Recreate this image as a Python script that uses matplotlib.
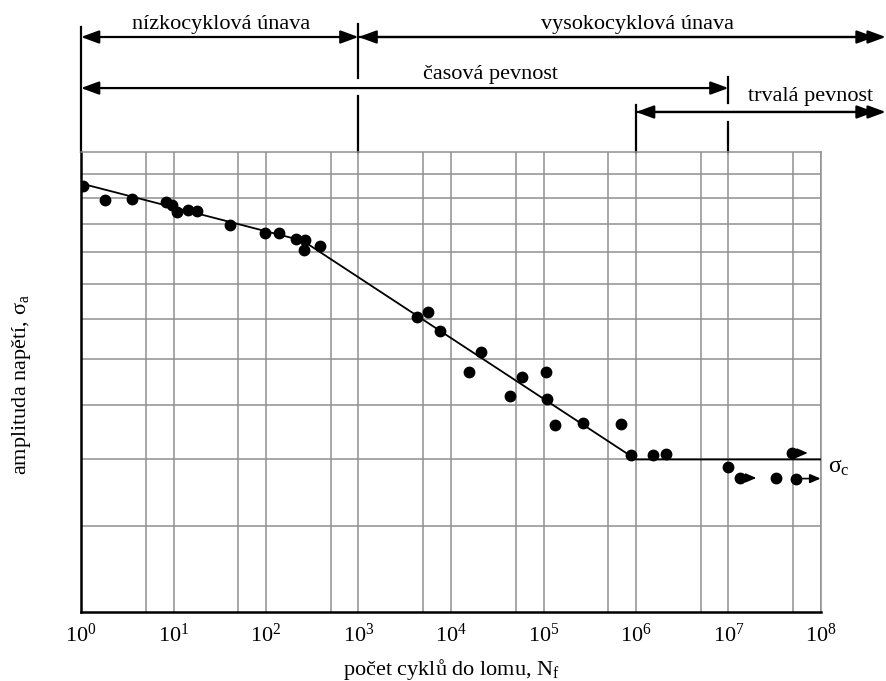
import matplotlib
matplotlib.use('Agg')
import matplotlib.pyplot as plt
from matplotlib.ticker import FixedLocator, NullFormatter, NullLocator

plt.rcParams['font.family'] = ['Liberation Serif', 'DejaVu Serif']
plt.rcParams['mathtext.fontset'] = 'custom'
plt.rcParams['mathtext.rm'] = 'Liberation Serif'
plt.rcParams['mathtext.it'] = 'Liberation Serif:italic'

# measured points: number of cycles to failure, stress amplitude
cycles = [1.05, 1.8, 3.6, 8.2, 9.7, 11, 14.5, 18, 41, 97, 138, 213, 264, 258, 384,
          4260, 5640, 7670, 20900, 15700, 58600, 43800, 105600, 110000, 133000,
          267000, 689000, 877000, 1.52e6, 2.11e6, 9.95e6, 1.32e7, 3.24e7, 4.82e7, 5.32e7]
sigma = [1250, 1192, 1196, 1185, 1172, 1146, 1153, 1150, 1096, 1068, 1068, 1045, 1042, 1008, 1021,
         806, 819, 770, 716, 671, 660, 618, 671, 613, 561,
         564, 563, 508, 507, 509, 488, 470, 470, 511, 469]

# run-outs (no failure) -> arrows
runout_start = [1.32e7, 4.82e7, 5.32e7]
runout_end = [2.0e7, 7.2e7, 9.9e7]
runout_sigma = [470, 511, 469]

# fitted S-N curve
curve_n = [1, 250, 1e6, 1e8]
curve_s = [1260, 1040, 500, 500]

regime_bounds = [1, 1e3, 1e6, 1e7]
xtick_exp = list(range(0, 9))

fig = plt.figure(figsize=(8.87, 6.81), dpi=100)
ax = fig.add_axes([81/887, 69/681, 740/887, 460/681])
ax.set_xscale('log')
ax.set_yscale('log')
ax.set_xlim(1, 1e8)
ax.set_ylim(300, 1400)

ax.xaxis.set_major_locator(FixedLocator([10.0**e for e in xtick_exp]))
ax.set_xticklabels([f'$10^{{{e}}}$' for e in xtick_exp], fontsize=16)
ax.xaxis.set_minor_locator(FixedLocator([5 * 10.0**e for e in range(8)]))
ax.xaxis.set_minor_formatter(NullFormatter())
ax.yaxis.set_major_locator(FixedLocator(list(range(400, 1400, 100))))
ax.yaxis.set_major_formatter(NullFormatter())
ax.yaxis.set_minor_locator(NullLocator())
ax.tick_params(which='both', length=0, pad=8)
ax.grid(True, which='both', color='#8f8f8f', lw=1.1)
ax.set_axisbelow(True)
for s in ['top', 'right']:
    ax.spines[s].set_color('#8f8f8f')
    ax.spines[s].set_linewidth(1.1)
for s in ['left', 'bottom']:
    ax.spines[s].set_color('black')
    ax.spines[s].set_linewidth(1.8)

ax.plot(curve_n, curve_s, color='black', lw=1.3, zorder=3)
ax.plot(cycles, sigma, 'o', color='black', ms=7.5, zorder=4)
for a, b, s in zip(runout_start, runout_end, runout_sigma):
    ax.annotate('', xy=(b, s), xytext=(a, s),
                arrowprops=dict(arrowstyle='-|>,head_length=0.7,head_width=0.3',
                                color='black', lw=1.2, mutation_scale=9,
                                shrinkA=4, shrinkB=0))

ax.text(10**8.08, 487, r'$\mathrm{σ}_\mathrm{c}$', fontsize=17, va='center', ha='left')

# regime annotations above the plot
tr = ax.get_xaxis_transform()
lk = dict(color='black', lw=1.6, transform=tr, clip_on=False)
ax.plot([1, 1], [1.0, 1.272], **lk)
ax.plot([1e3, 1e3], [1.161, 1.278], **lk)
ax.plot([1e3, 1e3], [1.0, 1.122], **lk)
ax.plot([1e6, 1e6], [1.0, 1.102], **lk)
ax.plot([1e7, 1e7], [1.107, 1.163], **lk)
ax.plot([1e7, 1e7], [1.0, 1.065], **lk)

x_far = 10**8.70
x_far2 = 10**8.58


def arrow(x0, x1, y, style='<|-|>'):
    ax.annotate('', xy=(x1, y), xytext=(x0, y), xycoords=tr, textcoords=tr,
                annotation_clip=False,
                arrowprops=dict(arrowstyle=style + ',head_length=0.6,head_width=0.22',
                                color='black', lw=1.6, mutation_scale=18,
                                shrinkA=0, shrinkB=0))


arrow(regime_bounds[0], regime_bounds[1], 1.25)
arrow(regime_bounds[1], x_far, 1.25)
arrow(regime_bounds[1], x_far2, 1.25, '-|>')
arrow(regime_bounds[0], regime_bounds[3], 1.139)
arrow(regime_bounds[2], x_far, 1.087)
arrow(regime_bounds[2], x_far2, 1.087, '-|>')

tk = dict(transform=tr, fontsize=16, ha='center', va='center', clip_on=False)
ax.text(10**1.51, 1.278, 'nízkocyklová únava', **tk)
ax.text(10**6.02, 1.278, 'vysokocyklová únava', **tk)
ax.text(10**4.43, 1.169, 'časová pevnost', **tk)
ax.text(10**7.89, 1.121, 'trvalá pevnost', **tk)

fig.text(451/887, 1 - 670/681, r'počet cyklů do lomu, N$_\mathrm{f}$', fontsize=16,
         ha='center', va='center')
fig.text(22/887, 1 - 385/681, r'amplituda napětí, $\mathrm{σ}_\mathrm{a}$', fontsize=16,
         ha='center', va='center', rotation=90)

fig.savefig('out.png', dpi=100)
